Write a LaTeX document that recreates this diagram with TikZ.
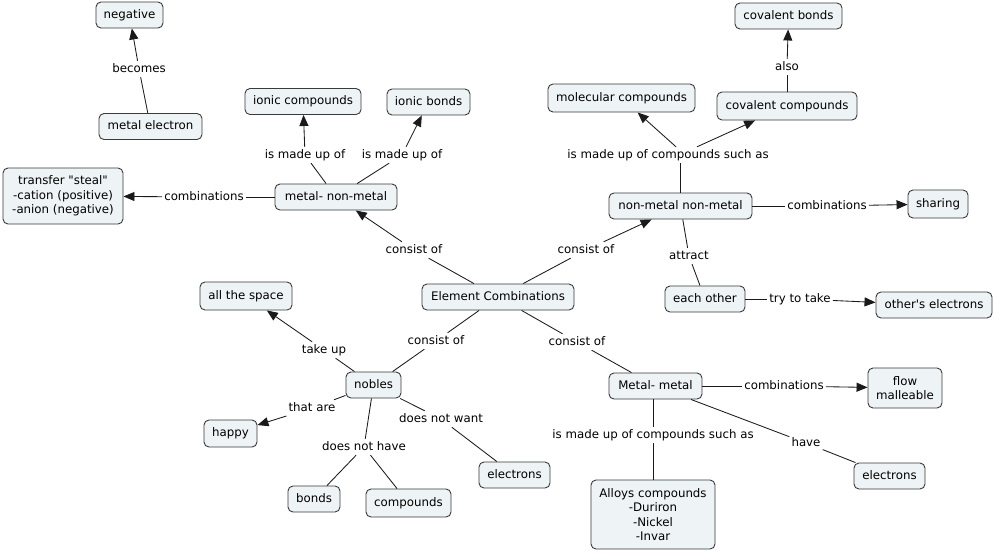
\documentclass[tikz,border=0pt]{standalone}
\usepackage{fontspec}
\setmainfont{DejaVu Sans}[Ligatures=TeXOff]
\usetikzlibrary{arrows.meta}
\definecolor{cfill}{HTML}{EEF3F5}
\definecolor{cborder}{HTML}{3A3A3A}
\definecolor{lnk}{HTML}{1A1A1A}
\begin{document}
\begin{tikzpicture}[x=1pt,y=-1pt,
  concept/.style={draw=cborder, fill=cfill, rounded corners=5pt, line width=0.9pt,
    inner xsep=4pt, inner ysep=3pt, minimum height=26pt, text height=9pt, text depth=3pt,
    font=\fontsize{11.8}{14}\selectfont},
  multi/.style={draw=cborder, fill=cfill, rounded corners=5pt, line width=0.9pt,
    inner xsep=4pt, inner ysep=2pt, align=center, font=\fontsize{11.8}{14.3}\selectfont},
  lbl/.style={inner sep=2pt, text height=9pt, text depth=3pt, font=\fontsize{11.8}{14}\selectfont},
  ln/.style={draw=lnk, line width=0.85pt},
  arr/.style={ln, -{Triangle[length=11pt,width=9pt]}}]
\useasboundingbox (0,0) rectangle (994,550);

% concepts
\node[concept, minimum width=67pt]  (neg)   at (129.5,15)   {negative};
\node[concept, minimum width=103pt] (melec) at (150.5,126.5) {metal electron};
\node[concept, minimum width=116pt] (ionc)  at (303,101.5)  {ionic compounds};
\node[concept, minimum width=83pt]  (ionb)  at (428.5,102)  {ionic bonds};
\node[multi, minimum width=120pt, minimum height=56pt] (trans) at (63,196)
  {transfer "steal"\\-cation (positive)\\-anion (negative)};
\node[concept, minimum width=122pt] (mnm)   at (336,197)    {metal- non-metal};
\node[concept, minimum width=147pt, minimum height=28pt] (molc) at (621.5,98) {molecular compounds};
\node[concept, minimum width=140pt, minimum height=28pt] (covc) at (787,106) {covalent compounds};
\node[concept, minimum width=107pt] (covb)  at (788.5,16)   {covalent bonds};
\node[concept, minimum width=143pt] (nmnm)  at (680.5,206)  {non-metal non-metal};
\node[concept, minimum width=60pt, minimum height=28pt] (shar) at (938,204) {sharing};
\node[concept, minimum width=80pt]  (each)  at (705,299)    {each other};
\node[concept, minimum width=116pt] (oth)   at (934,305)    {other's electrons};
\node[concept, minimum width=152pt] (ec)    at (498,297)    {Element Combinations};
\node[concept, minimum width=92pt, minimum height=28pt] (space) at (246,296) {all the space};
\node[concept, minimum width=55pt]  (nob)   at (373.5,385)  {nobles};
\node[concept, minimum width=53pt, minimum height=27pt] (happy) at (230.5,433.5) {happy};
\node[concept, minimum width=52pt]  (bonds) at (314,499)    {bonds};
\node[concept, minimum width=85pt, minimum height=28pt] (comp) at (408.5,503) {compounds};
\node[concept, minimum width=71pt]  (elA)   at (514.5,475)  {electrons};
\node[concept, minimum width=93pt]  (mm)    at (655.5,386)  {Metal- metal};
\node[multi, minimum width=74pt, minimum height=40pt] (flow) at (905,388) {flow\\malleable};
\node[multi, minimum width=124pt, minimum height=69pt] (alloy) at (653,514.5)
  {Alloys compounds\\-Duriron\\-Nickel\\-Invar};
\node[concept, minimum width=71pt]  (elB)   at (889.5,476)  {electrons};

% linking phrases
\node[lbl] (l1)  at (139,69)   {becomes};
\node[lbl] (l2)  at (305,155)  {is made up of};
\node[lbl] (l3)  at (402,155)  {is made up of};
\node[lbl] (l4)  at (204,197)  {combinations};
\node[lbl] (l5)  at (414,250)  {consist of};
\node[lbl] (l6)  at (586,250)  {consist of};
\node[lbl] (l7)  at (668,155)  {is made up of compounds such as};
\node[lbl] (l8)  at (787,67)   {also};
\node[lbl] (l9)  at (827,206)  {combinations};
\node[lbl] (l10) at (689,256)  {attract};
\node[lbl] (l11) at (800,299)  {try to take};
\node[lbl] (l12) at (324,350)  {take up};
\node[lbl] (l13) at (436,341)  {consist of};
\node[lbl] (l14) at (577,342)  {consist of};
\node[lbl] (l15) at (312,408)  {that are};
\node[lbl] (l16) at (441,419)  {does not want};
\node[lbl] (l17) at (364,447)  {does not have};
\node[lbl] (l18) at (784,386)  {combinations};
\node[lbl] (l19) at (653,435)  {is made up of compounds such as};
\node[lbl] (l20) at (806,443)  {have};

% connectors
\draw[ln] (melec) -- (l1);  \draw[arr] (l1) -- (neg);
\draw[ln] (mnm) -- (l2);    \draw[arr] (l2) -- (ionc);
\draw[ln] (mnm) -- (l3);    \draw[arr] (l3) -- (ionb);
\draw[ln] (mnm) -- (l4);    \draw[arr] (l4) -- (trans);
\draw[ln] (ec) -- (l5);     \draw[arr] (l5) -- (mnm);
\draw[ln] (ec) -- (l6);     \draw[arr] (l6) -- (nmnm);
\draw[ln] (nmnm.north) -- (l7.south -| nmnm.north);
\draw[arr] ([xshift=8pt]l7.north) -- (molc);
\draw[arr] ([xshift=29pt]l7.north) -- (covc);
\draw[ln] (covc) -- (l8);   \draw[arr] (l8) -- (covb);
\draw[ln] (nmnm) -- (l9);   \draw[arr] (l9) -- (shar);
\draw[ln] (nmnm) -- (l10);  \draw[ln] (l10) -- (each);
\draw[ln] (each) -- (l11);  \draw[arr] (l11) -- (oth);
\draw[ln] (nob) -- (l12);   \draw[arr] (l12) -- (space);
\draw[ln] (ec) -- (l13);    \draw[ln] (l13) -- (nob);
\draw[ln] (ec) -- (l14);    \draw[ln] (l14) -- (mm);
\draw[ln] (nob) -- (l15);   \draw[arr] (l15) -- (happy);
\draw[ln] (nob) -- (l16);   \draw[ln] (l16) -- (elA);
\draw[ln] (nob) -- (l17);   \draw[ln] (l17) -- (bonds); \draw[ln] (l17) -- (comp);
\draw[ln] (mm) -- (l18);    \draw[arr] (l18) -- (flow);
\draw[ln] (mm.south -| l19.north) -- (l19.north); \draw[ln] (l19) -- (alloy);
\draw[ln] (mm) -- (l20);    \draw[ln] (l20) -- (elB);
\end{tikzpicture}
\end{document}
